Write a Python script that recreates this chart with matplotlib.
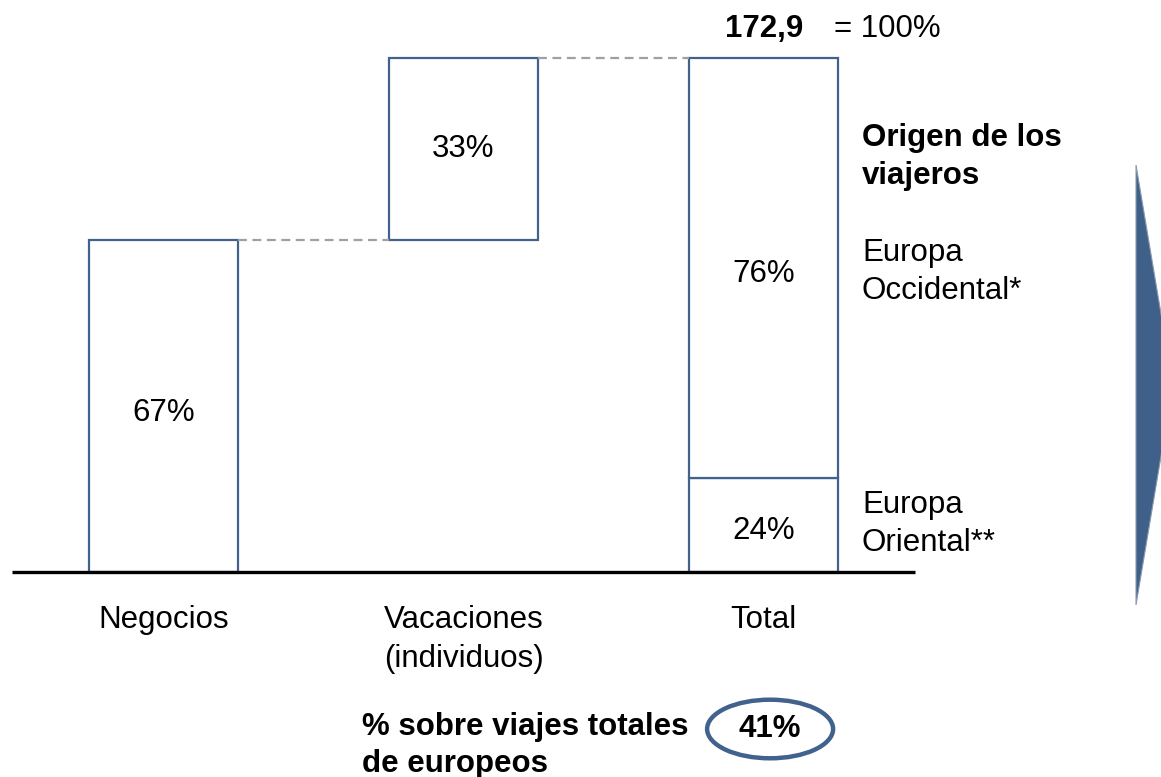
import matplotlib.pyplot as plt
from matplotlib.patches import Ellipse, Polygon

plt.rcParams['font.family'] = ['Liberation Sans', 'DejaVu Sans']

# datos
categorias = ['Negocios', 'Vacaciones\n(individuos)', 'Total']
cuota_negocios = 67
cuota_vacaciones = 33
origen = ['Europa\nOriental**', 'Europa\nOccidental*']
cuota_origen = [24, 76]
# alturas tal como se dibujan en el esquema
altura_negocios = 64.6
altura_vacaciones = 35.4
altura_origen = [18.3, 81.7]
total = '172,9'
cuota_europeos = 41

azul = '#41628C'
fig = plt.figure(figsize=(11.61, 7.77), dpi=100)
ax = fig.add_axes([0, 0, 1, 1])
ax.set_xlim(-0.545, 3.325)
ax.set_ylim(-39.88, 111.28)
ax.axis('off')

ancho = 0.497
fs = 22.5

# cascada
ax.bar(0, altura_negocios, width=ancho, facecolor='white', edgecolor=azul, linewidth=1.6)
ax.bar(1, altura_vacaciones, bottom=altura_negocios, width=ancho, facecolor='white',
       edgecolor=azul, linewidth=1.6)
base = 0
for h in altura_origen:
    ax.bar(2, h, bottom=base, width=ancho, facecolor='white', edgecolor=azul, linewidth=1.6)
    base += h

ax.text(0, altura_negocios / 2 - 1.4, f'{cuota_negocios}%', ha='center', va='center', fontsize=fs)
ax.text(1, altura_negocios + altura_vacaciones / 2, f'{cuota_vacaciones}%',
        ha='center', va='center', fontsize=fs)
base = 0
for h, c in zip(altura_origen, cuota_origen):
    ax.text(2, base + h / 2 - 1.2, f'{c}%', ha='center', va='center', fontsize=fs)
    base += h

# conectores
ax.plot([ancho / 2, 1 - ancho / 2], [altura_negocios] * 2, color='#A0A0A0',
        linestyle=(0, (4, 2.5)), linewidth=1.6)
ax.plot([1 + ancho / 2, 2 - ancho / 2], [altura_negocios + altura_vacaciones] * 2,
        color='#A0A0A0', linestyle=(0, (4, 2.5)), linewidth=1.6)

# linea base
ax.plot([-0.505, 2.505], [0, 0], color='black', linewidth=2.4, solid_capstyle='butt')

for i, cat in enumerate(categorias):
    ax.text(i, -6.4, cat, ha='center', va='top', fontsize=fs, linespacing=1.4)

# total
ax.text(2.132, 105.6, total, ha='right', va='center', fontsize=fs, fontweight='bold')
ax.text(2.412, 105.6, '= 100%', ha='center', va='center', fontsize=fs)

# origen
ax.text(2.328, 80.7, 'Origen de los\nviajeros', ha='left', va='center', fontsize=fs,
        fontweight='bold', linespacing=1.35)
ax.text(2.328, 58.3, origen[1], ha='left', va='center', fontsize=fs, linespacing=1.35)
ax.text(2.328, 9.3, origen[0], ha='left', va='center', fontsize=fs, linespacing=1.35)

# pie
ax.text(0.662, -33.8, '% sobre viajes totales\nde europeos', ha='left', va='center',
        fontsize=fs, fontweight='bold', linespacing=1.3)
ax.add_patch(Ellipse((2.022, -30.54), 0.42, 11.4, facecolor='white', edgecolor=azul,
                     linewidth=3.2))
ax.text(2.022, -30.6, f'{cuota_europeos}%', ha='center', va='center', fontsize=fs,
        fontweight='bold')

# flecha lateral
W, H = 1161, 777
pts = [(1136, 165), (1173, 385), (1136, 605)]
fig.patches.append(Polygon([(x / W, 1 - y / H) for x, y in pts], closed=True,
                           transform=fig.transFigure, facecolor='#3F6088',
                           edgecolor='#8A9AB0', linewidth=0.8))

fig.savefig('out.png', dpi=100)
